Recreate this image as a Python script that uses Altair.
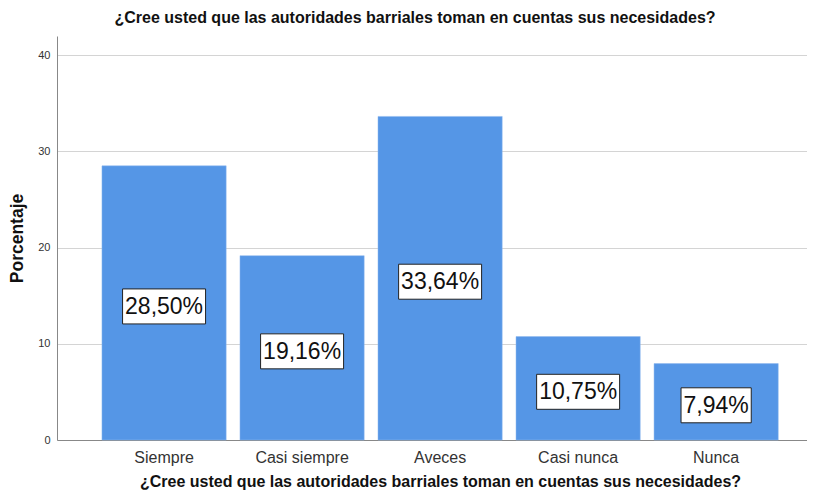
import altair as alt
import pandas as pd

categories = ["Siempre", "Casi siempre", "Aveces", "Casi nunca", "Nunca"]
values = [28.50, 19.16, 33.64, 10.75, 7.94]
labels = [f"{v:.2f}".replace(".", ",") + "%" for v in values]

TITLE = "¿Cree usted que las autoridades barriales toman en cuentas sus necesidades?"

FS = 23
# approximate rendered text width (Arial metrics) for label boxes
_w = {",": 0.278, "%": 0.889}
def text_w(s, fs=FS):
    return sum(_w.get(c, 0.556) for c in s) * fs + 5

df = pd.DataFrame({
    "cat": categories,
    "val": values,
    "label": labels,
    "boxw": [text_w(l) for l in labels],
})

x_enc = alt.X(
    "cat:N", sort=categories,
    scale=alt.Scale(paddingInner=0.1, paddingOuter=0.267, align=0.61),
    axis=alt.Axis(title=TITLE, labelAngle=0, ticks=False, domainColor="#888888",
                  labelFontSize=16, labelColor="#333333", labelPadding=9,
                  labelFont="Liberation Sans", titleFont="Liberation Sans",
                  titleFontSize=16, titleFontWeight="bold", titleColor="#111111",
                  titlePadding=8, titleX=383, titleAlign="center", grid=False),
)

base = alt.Chart(df)

bars = base.mark_bar(color="#5596e6", stroke="#8fb8ef", strokeWidth=0.5).encode(
    x=x_enc,
    y=alt.Y("val:Q", scale=alt.Scale(domain=[0, 42], nice=False),
            axis=alt.Axis(title="Porcentaje", values=[0, 10, 20, 30, 40], ticks=False,
                          labelPadding=7, labelFontSize=11, labelColor="#333333",
                          labelFont="Liberation Sans", titleFont="Liberation Sans",
                          titleFontSize=17.5, titleFontWeight="bold", titleColor="#111111",
                          titlePadding=11, domainColor="#888888",
                          gridColor="#d4d4d4", grid=True)),
)

boxes = base.transform_calculate(mid="datum.val / 2").mark_bar(
    fill="white", stroke="#222222", strokeWidth=1, yOffset=-14, y2Offset=21
).encode(
    x=alt.X("cat:N", sort=categories),
    y=alt.Y("mid:Q"),
    y2="mid:Q",
    size=alt.Size("boxw:Q", scale=None, legend=None),
)

texts = base.transform_calculate(mid="datum.val / 2").mark_text(
    fontSize=FS, font="Liberation Sans", color="#111111", dy=4, baseline="middle"
).encode(
    x=alt.X("cat:N", sort=categories),
    y=alt.Y("mid:Q"),
    text="label:N",
)

chart = alt.layer(bars, boxes, texts).properties(
    width=750, height=404,
    title=alt.TitleParams(TITLE, fontSize=16, fontWeight="bold", font="Liberation Sans",
                          color="#111111", anchor="middle", offset=10, dx=-17),
    autosize=alt.AutoSizeParams(type="none"),
    padding={"left": 49, "top": 28, "right": 0, "bottom": 50},
).configure_view(stroke=None).configure_axisX(gridColor="#d4d4d4")

chart.save("out.html", embed_options={"renderer": "svg", "actions": False})
